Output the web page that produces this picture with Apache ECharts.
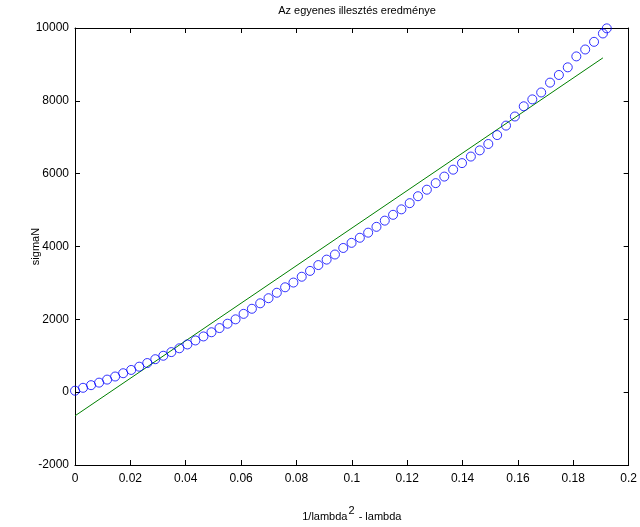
<!DOCTYPE html>
<html>
<head>
<meta charset="utf-8">
<script src="https://cdn.jsdelivr.net/npm/echarts@6/dist/echarts.min.js"></script>
<style>
html, body { margin: 0; padding: 0; background: #fff; }
#chart { width: 640px; height: 527px; }
</style>
</head>
<body>
<div id="chart"></div>
<script>
// measured points (1/lambda^2 - lambda, sigmaN)
const xData = [0, 0.0029, 0.0058, 0.0087, 0.0116, 0.0145, 0.0174, 0.0203, 0.0232, 0.0261,
    0.029, 0.0319, 0.0348, 0.0377, 0.0406, 0.0435, 0.0464, 0.0493, 0.0522, 0.0551,
    0.058, 0.0609, 0.0639, 0.0669, 0.0699, 0.0729, 0.0759, 0.0789, 0.0819, 0.0849,
    0.0879, 0.0909, 0.0939, 0.0969, 0.0999, 0.1029, 0.1059, 0.1089, 0.1119, 0.1149,
    0.1179, 0.1209, 0.1239, 0.1271, 0.1303, 0.1334, 0.1366, 0.1398, 0.143, 0.1462,
    0.1493, 0.1525, 0.1557, 0.1589, 0.1621, 0.1652, 0.1684, 0.1716, 0.1748, 0.178,
    0.1811, 0.1843, 0.1875, 0.1907, 0.1921];
const yData = [40, 120, 192, 262, 345, 430, 520, 610, 700, 800,
    905, 1000, 1100, 1205, 1310, 1420, 1530, 1645, 1760, 1880,
    2000, 2150, 2290, 2440, 2580, 2730, 2880, 3010, 3170, 3330,
    3490, 3640, 3780, 3960, 4100, 4240, 4380, 4540, 4710, 4870,
    5020, 5190, 5380, 5560, 5740, 5920, 6110, 6290, 6470, 6640,
    6815, 7060, 7320, 7570, 7850, 8040, 8230, 8500, 8710, 8920,
    9220, 9410, 9620, 9850, 9990];
// fitted straight line (end points)
const fitX = [0, 0.1907];
const fitY = [-650, 9180];

const xTicks = ['0', '0.02', '0.04', '0.06', '0.08', '0.1', '0.12', '0.14', '0.16', '0.18', '0.2'];
const yTicks = ['-2000', '0', '2000', '4000', '6000', '8000', '10000'];

const font = 'Liberation Sans, Arial, sans-serif';
const chart = echarts.init(document.getElementById('chart'));

const axisCommon = {
    axisLine: { show: true, onZero: false, lineStyle: { color: '#000', width: 1 } },
    axisTick: { show: true, inside: true, length: 5, lineStyle: { color: '#000' } },
    splitLine: { show: false }
};

chart.setOption({
    animation: false,
    backgroundColor: '#fff',
    title: {
        text: 'Az egyenes illesztés eredménye',
        left: 352,
        top: 0,
        textAlign: 'center',
        textStyle: { fontFamily: font, fontSize: 11, fontWeight: 'normal', color: '#000' }
    },
    grid: { left: 75, right: 10, top: 28, bottom: 60 },
    xAxis: [
        Object.assign({
            type: 'value', min: 0, max: 0.2, interval: 0.02,
            name: '{a|1/lambda}{s|2}{a| - lambda}',
            nameLocation: 'middle',
            nameGap: 40,
            nameMoveOverlap: false,
            nameTextStyle: {
                rich: {
                    a: { fontFamily: font, fontSize: 11, color: '#000', verticalAlign: 'bottom' },
                    s: { fontFamily: font, fontSize: 11, color: '#000', verticalAlign: 'bottom', padding: [0, 1, 6, 1] }
                }
            },
            axisLabel: {
                fontFamily: font, fontSize: 12, color: '#000', margin: 8,
                formatter: (v) => xTicks[Math.round(v / 0.02)]
            }
        }, axisCommon),
        Object.assign({
            type: 'value', min: 0, max: 0.2, interval: 0.02, position: 'top',
            axisLabel: { show: false }
        }, axisCommon)
    ],
    yAxis: [
        Object.assign({
            type: 'value', min: -2000, max: 10000, interval: 2000,
            name: 'sigmaN',
            nameLocation: 'middle',
            nameGap: 34,
            nameMoveOverlap: false,
            nameTextStyle: { fontFamily: font, fontSize: 11, color: '#000' },
            axisLabel: {
                fontFamily: font, fontSize: 12, color: '#000', margin: 6,
                formatter: (v) => yTicks[Math.round((v + 2000) / 2000)]
            }
        }, axisCommon),
        Object.assign({
            type: 'value', min: -2000, max: 10000, interval: 2000, position: 'right',
            axisLabel: { show: false }
        }, axisCommon)
    ],
    series: [
        {
            type: 'line',
            data: fitX.map((x, i) => [x, fitY[i]]),
            showSymbol: false,
            lineStyle: { color: '#008000', width: 1 },
            z: 2
        },
        {
            type: 'scatter',
            data: xData.map((x, i) => [x, yData[i]]),
            symbol: 'circle',
            symbolSize: 9,
            itemStyle: { color: 'rgba(0,0,0,0)', borderColor: '#0000ff', borderWidth: 1 },
            z: 3
        }
    ]
});
</script>
</body>
</html>
